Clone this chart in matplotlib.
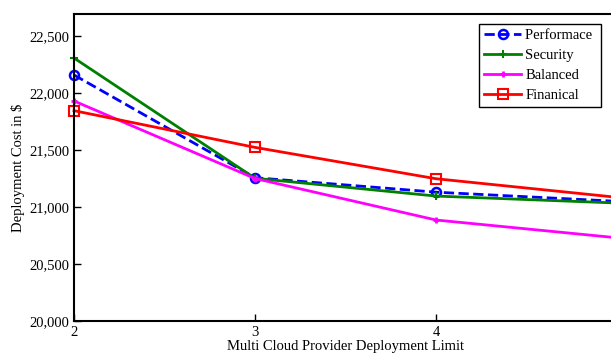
import numpy as np
import matplotlib.pyplot as plt
from matplotlib.ticker import FuncFormatter

plt.rcParams['font.family'] = ['Liberation Serif', 'DejaVu Serif']

limits = [2, 3, 4, 5]
performace = [22158, 21257, 21130, 21050]
security = [22307, 21252, 21096, 21035]
balanced = [21930, 21250, 20886, 20730]
finanical = [21845, 21523, 21248, 21085]

fig = plt.figure(figsize=(6.11, 3.54), dpi=100)
ax = fig.add_axes([74 / 611, 33 / 354, 543 / 611, 307 / 354])

ax.plot(limits, performace, '--', color='blue', lw=2, marker='o', ms=6.5,
        mfc='none', mew=1.8, label='Performace ', clip_on=False)
ax.plot(limits, security, '-', color='green', lw=2, marker='+', ms=6,
        mew=1.5, label='Security', clip_on=False)
ax.plot(limits, balanced, '-', color='magenta', lw=2, marker='+', ms=5,
        mew=2, label='Balanced', clip_on=False)
ax.plot(limits, finanical, '-', color='red', lw=2, marker='s', ms=6.5,
        mfc='none', mew=1.5, label='Finanical', clip_on=False)

ax.set_xlim(2, 5)
ax.set_ylim(20000, 22693)
ax.set_xticks([2, 3, 4])
ax.set_yticks(np.arange(20000, 22501, 500))
ax.yaxis.set_major_formatter(FuncFormatter(lambda v, p: '{:,.0f}'.format(v)))
ax.tick_params(direction='in', length=5, width=1, labelsize=10.5)
for s in ax.spines.values():
    s.set_linewidth(1.5)

ax.set_xlabel('Multi Cloud Provider Deployment Limit', fontsize=10.5, labelpad=1)
ax.set_ylabel('Deployment Cost in $', fontsize=10.5, labelpad=3)

leg = ax.legend(loc='upper right', fontsize=10.5, fancybox=False,
                framealpha=1, edgecolor='black', borderaxespad=0.0,
                handlelength=2.5, labelspacing=0.46, borderpad=0.35,
                handletextpad=0.3)
leg.get_frame().set_linewidth(1)
leg.set_bbox_to_anchor(((601 - 74) / 543, (321 - 24) / 307), transform=ax.transAxes)

fig.savefig('out.png', dpi=100)
